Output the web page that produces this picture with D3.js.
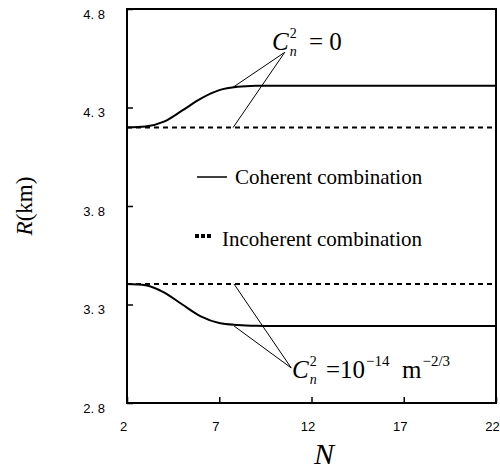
<!DOCTYPE html>
<html>
<head>
<meta charset="utf-8">
<script src="https://d3js.org/d3.v7.min.js"></script>
<style>
  body { margin: 0; background: #fff; }
</style>
</head>
<body>
<svg width="500" height="469" id="mainSvg"></svg>
<script>
// ---- data ----
const nValues = [2, 3, 4, 5, 6, 7, 8, 9, 10, 11, 12, 13, 14, 15, 16, 17, 18, 19, 20, 21, 22]
const coherentZero = [4.198, 4.203, 4.228, 4.285, 4.345, 4.388, 4.405, 4.410, 4.411, 4.411, 4.411, 4.411, 4.411, 4.411, 4.411, 4.411, 4.411, 4.411, 4.411, 4.411, 4.411]
const coherentTurb = [3.404, 3.398, 3.362, 3.300, 3.240, 3.206, 3.196, 3.192, 3.191, 3.191, 3.191, 3.191, 3.191, 3.191, 3.191, 3.191, 3.191, 3.191, 3.191, 3.191, 3.191]
const incoherentZero = nValues.map(() => 4.198)
const incoherentTurb = nValues.map(() => 3.404)

const xTicks = [2, 7, 12, 17, 22]
const yTicks = [2.8, 3.3, 3.8, 4.3, 4.8]
const yTickLabels = ["2. 8", "3. 3", "3. 8", "4. 3", "4. 8"]

// leader lines: [from N, from R, to N, to R]
const leadersTop = [[7.75, 4.403, 10.55, 4.58], [7.75, 4.198, 10.55, 4.58]]
const leadersBottom = [[7.8, 3.404, 10.9, 2.978], [7.8, 3.191, 10.9, 2.978]]

const mainSvg = d3.select("#mainSvg")
const margin = {top: 9, right: 4, bottom: 66, left: 127}
const width = 500, height = 469

const x = d3.scaleLinear().domain([2, 22]).range([margin.left, width - margin.right])
const y = d3.scaleLinear().domain([2.8, 4.8]).range([height - margin.bottom, margin.top])

const serif = "'Liberation Serif', 'Times New Roman', serif"
const sans = "'Liberation Sans', Arial, sans-serif"

// axes with inward ticks
const xAxis = d3.axisBottom(x).tickValues(xTicks).tickSize(-6).tickFormat(d3.format("d"))
const gx = mainSvg.append("g").attr("transform", `translate(0,${y(2.8)})`).call(xAxis)
gx.select(".domain").remove()
gx.selectAll(".tick line").attr("stroke", "#000").attr("stroke-width", 1.5)
gx.selectAll(".tick text").attr("font-family", sans).attr("font-size", 13)
  .attr("fill", "#000").attr("dx", -4).attr("y", 19)

const yAxis = d3.axisLeft(y).tickValues(yTicks).tickSize(-6)
  .tickFormat((d, i) => yTickLabels[i])
const gy = mainSvg.append("g").attr("transform", `translate(${x(2)},0)`).call(yAxis)
gy.select(".domain").remove()
gy.selectAll(".tick line").attr("stroke", "#000").attr("stroke-width", 1.5)
gy.selectAll(".tick text").attr("font-family", sans).attr("font-size", 13)
  .attr("fill", "#000").attr("x", -22).attr("dy", "0.7em")

// frame
mainSvg.append("rect")
  .attr("x", x(2)).attr("y", y(4.8))
  .attr("width", x(22) - x(2)).attr("height", y(2.8) - y(4.8))
  .attr("fill", "none").attr("stroke", "#000").attr("stroke-width", 2)

// lines
const line = d3.line().x((d, i) => x(nValues[i])).y(d => y(d)).curve(d3.curveMonotoneX)

mainSvg.append("path").datum(incoherentZero).attr("d", line)
  .attr("fill", "none").attr("stroke", "#000").attr("stroke-width", 2).attr("stroke-dasharray", "5,4")
mainSvg.append("path").datum(incoherentTurb).attr("d", line)
  .attr("fill", "none").attr("stroke", "#000").attr("stroke-width", 2).attr("stroke-dasharray", "5,4")
mainSvg.append("path").datum(coherentZero).attr("d", line)
  .attr("fill", "none").attr("stroke", "#000").attr("stroke-width", 2)
mainSvg.append("path").datum(coherentTurb).attr("d", line)
  .attr("fill", "none").attr("stroke", "#000").attr("stroke-width", 2)

// leader lines
mainSvg.selectAll(".leader").data(leadersTop.concat(leadersBottom)).enter().append("line")
  .attr("class", "leader")
  .attr("x1", d => x(d[0])).attr("y1", d => y(d[1]))
  .attr("x2", d => x(d[2])).attr("y2", d => y(d[3]))
  .attr("stroke", "#000").attr("stroke-width", 1)

// C with sub n and sup 2, returns text group
function cn2(x0, base) {
  const g = mainSvg.append("g").attr("font-family", serif).attr("fill", "#000")
  const c = g.append("text").attr("x", x0).attr("y", base).attr("font-size", 25)
    .attr("font-style", "italic").text("C")
  const w = c.node().getComputedTextLength()
  g.append("text").attr("x", x0 + w + 1).attr("y", base + 6).attr("font-size", 14)
    .attr("font-style", "italic").text("n")
  g.append("text").attr("x", x0 + w + 1).attr("y", base - 12).attr("font-size", 14).text("2")
  return g
}

// label C_n^2 = 0
cn2(272, 50)
mainSvg.append("text").attr("font-family", serif).attr("font-size", 25).attr("fill", "#000")
  .attr("x", 309).attr("y", 50).text("= 0")

// label C_n^2 = 10^-14 m^-2/3
cn2(292, 378)
const t2 = mainSvg.append("text").attr("font-family", serif).attr("font-size", 25).attr("fill", "#000")
  .attr("x", 326).attr("y", 378)
t2.append("tspan").text("=10")
t2.append("tspan").attr("font-size", 15).attr("dx", 1).attr("y", 366).text("\u221214")
t2.append("tspan").attr("x", 402).attr("y", 378).text("m")
t2.append("tspan").attr("font-size", 15).attr("dx", 1).attr("y", 366).text("\u22122/3")

// legend
mainSvg.append("line").attr("x1", 197).attr("x2", 227).attr("y1", 177).attr("y2", 177)
  .attr("stroke", "#000").attr("stroke-width", 1.5)
mainSvg.append("text").attr("x", 235).attr("y", 184).attr("font-family", serif).attr("font-size", 21)
  .attr("fill", "#000").text("Coherent combination")
mainSvg.selectAll(".sq").data([0, 1, 2]).enter().append("rect")
  .attr("x", d => 195 + d * 6).attr("y", 234).attr("width", 4).attr("height", 4).attr("fill", "#000")
mainSvg.append("text").attr("x", 222).attr("y", 246).attr("font-family", serif).attr("font-size", 21)
  .attr("fill", "#000").text("Incoherent combination")

// axis titles
const yt = mainSvg.append("text").attr("transform", "translate(32,206) rotate(-90)")
  .attr("text-anchor", "middle").attr("font-family", serif).attr("font-size", 23).attr("fill", "#000")
yt.append("tspan").attr("font-style", "italic").text("R")
yt.append("tspan").text("(km)")

mainSvg.append("text").attr("x", 324).attr("y", 464).attr("text-anchor", "middle")
  .attr("font-family", serif).attr("font-style", "italic").attr("font-size", 30).attr("fill", "#000").text("N")
</script>
</body>
</html>
